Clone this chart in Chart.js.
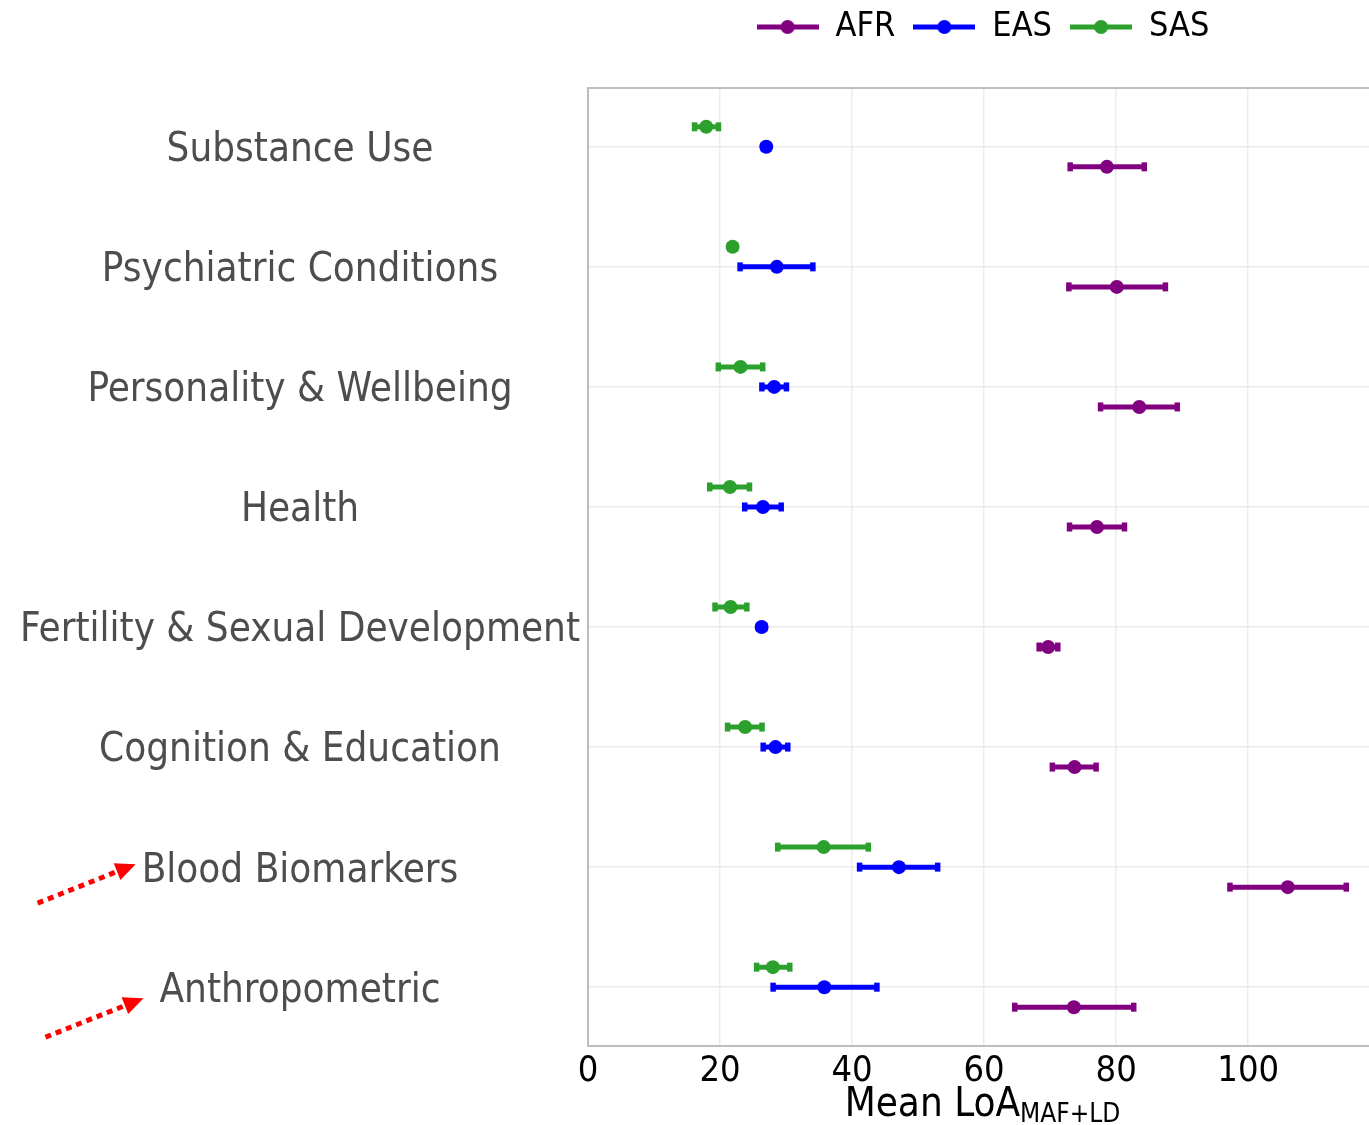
<!DOCTYPE html>
<html>
<head>
<meta charset="utf-8">
<script src="https://cdn.jsdelivr.net/npm/chart.js@4.4.1/dist/chart.umd.min.js"></script>
<style>
  html, body { margin: 0; padding: 0; background: #ffffff; }
  #wrap { width: 1369px; height: 1125px; position: relative; }
</style>
</head>
<body>
<div id="wrap"><canvas id="c" width="1369" height="1125"></canvas></div>
<script>
// ---------- DATA ----------
const categories = [
  "Substance Use",
  "Psychiatric Conditions",
  "Personality & Wellbeing",
  "Health",
  "Fertility & Sexual Development",
  "Cognition & Education",
  "Blood Biomarkers",
  "Anthropometric"
];
const seriesNames = ["AFR", "EAS", "SAS"];

const afrMean = [78.6, 80.1, 83.5, 77.1, 69.7, 73.7, 106.0, 73.6];
const afrLow  = [73.0, 72.8, 77.6, 72.9, 68.3, 70.3, 97.2, 64.6];
const afrHigh = [84.3, 87.5, 89.3, 81.3, 71.2, 77.0, 114.9, 82.7];

const easMean = [27.0, 28.6, 28.2, 26.5, 26.3, 28.4, 47.1, 35.8];
const easLow  = [26.5, 23.0, 26.3, 23.7, 25.8, 26.5, 41.1, 28.0];
const easHigh = [27.4, 34.1, 30.1, 29.3, 26.8, 30.3, 53.0, 43.8];

const sasMean = [17.9, 21.9, 23.1, 21.5, 21.6, 23.8, 35.7, 28.0];
const sasLow  = [16.1, 21.4, 19.7, 18.4, 19.2, 21.1, 28.7, 25.5];
const sasHigh = [19.8, 22.4, 26.5, 24.5, 24.1, 26.4, 42.5, 30.6];

const xTicks = [0, 20, 40, 60, 80, 100];
const xMax = 118.3;
const xTitle = "Mean LoA";
const xTitleSub = "MAF+LD";
const highlighted = ["Blood Biomarkers", "Anthropometric"];

// ---------- STYLE ----------
const colors = { AFR: "#800080", EAS: "#0000ff", SAS: "#2ca02c" };
const offsets = { AFR: 1 / 6, EAS: 0, SAS: -1 / 6 };
const FONT = "'DejaVu Sans Condensed', 'DejaVu Sans', sans-serif";
const Y_FONT_SIZE = 40;

const series = {
  AFR: { mean: afrMean, low: afrLow, high: afrHigh },
  EAS: { mean: easMean, low: easLow, high: easHigh },
  SAS: { mean: sasMean, low: sasLow, high: sasHigh }
};

function legendIcon(color) {
  const cv = document.createElement("canvas");
  cv.width = 62; cv.height = 16;
  const g = cv.getContext("2d");
  g.strokeStyle = color; g.lineWidth = 5;
  g.beginPath(); g.moveTo(0, 8); g.lineTo(62, 8); g.stroke();
  g.fillStyle = color;
  g.beginPath(); g.arc(31, 8, 7, 0, Math.PI * 2); g.fill();
  return cv;
}
const icons = {};
seriesNames.forEach(n => icons[n] = legendIcon(colors[n]));

const datasets = seriesNames.map(name => ({
  label: name,
  data: series[name].mean.map((m, i) => ({ x: m, y: i + offsets[name] })),
  backgroundColor: colors[name],
  borderColor: colors[name],
  pointRadius: 7,
  pointHoverRadius: 7,
  pointBorderWidth: 0,
  showLine: false,
  seriesKey: name
}));

// ---------- PLUGINS ----------
const errorBars = {
  id: "errorBars",
  beforeDatasetsDraw(chart) {
    const ctx = chart.ctx, xs = chart.scales.x, ca = chart.chartArea;
    ctx.save();
    ctx.beginPath(); ctx.rect(ca.left, ca.top, ca.right - ca.left, ca.bottom - ca.top); ctx.clip();
    chart.data.datasets.forEach((ds, di) => {
      const s = series[ds.seriesKey];
      const meta = chart.getDatasetMeta(di);
      meta.data.forEach((pt, j) => {
        const y = pt.y;
        const x1 = xs.getPixelForValue(s.low[j]);
        const x2 = xs.getPixelForValue(s.high[j]);
        ctx.strokeStyle = ds.borderColor;
        ctx.fillStyle = ds.borderColor;
        ctx.lineWidth = 5;
        ctx.beginPath(); ctx.moveTo(x1, y); ctx.lineTo(x2, y); ctx.stroke();
        ctx.fillRect(x1 - 2.5, y - 4.5, 5.5, 9);
        ctx.fillRect(x2 - 3, y - 4.5, 5.5, 9);
      });
    });
    ctx.restore();
  }
};

const frameAndTitle = {
  id: "frameAndTitle",
  afterInit(chart) {
    const lg = chart.legend;
    if (lg) {
      const origFit = lg.fit.bind(lg);
      lg.fit = function () { origFit(); this.height = 96; };
    }
  },
  afterLayout(chart) {
    const lg = chart.legend, ca = chart.chartArea;
    if (lg) { lg.left = ca.left + 9; lg.right = ca.right; }
  },
  afterDraw(chart) {
    const ctx = chart.ctx, ca = chart.chartArea, ys = chart.scales.y;
    ctx.save();
    // top frame line
    ctx.strokeStyle = "#bdbdbd"; ctx.lineWidth = 2;
    ctx.beginPath(); ctx.moveTo(ca.left - 1, ca.top); ctx.lineTo(ca.right, ca.top); ctx.stroke();

    // x-axis title with subscript
    const mainFont = "40px " + FONT, subFont = "26px " + FONT;
    ctx.font = mainFont; const w1 = ctx.measureText(xTitle).width;
    ctx.font = subFont; const w2 = ctx.measureText(xTitleSub).width;
    const cx = (ca.left + ca.right) / 2 + 4;
    const startX = cx - (w1 + w2) / 2;
    const baseY = 1116;
    ctx.fillStyle = "#000000"; ctx.textBaseline = "alphabetic"; ctx.textAlign = "left";
    ctx.font = mainFont; ctx.fillText(xTitle, startX, baseY);
    ctx.font = subFont; ctx.fillText(xTitleSub, startX + w1, baseY + 6);

    // red dotted arrows pointing to highlighted labels
    ctx.font = Y_FONT_SIZE + "px " + FONT;
    const tipDy = { "Blood Biomarkers": -3, "Anthropometric": 11 };
    const tipGap = { "Blood Biomarkers": 6, "Anthropometric": 16 };
    highlighted.forEach(lbl => {
      const idx = categories.indexOf(lbl);
      const ty = ys.getPixelForValue(idx);
      const w = ctx.measureText(lbl).width;
      const labelCenter = ca.left - 8 - ys._labelSizes.widest.width / 2;
      const tipX = labelCenter - w / 2 - tipGap[lbl];
      const tipY = ty + tipDy[lbl];
      const tailX = tipX - 98, tailY = tipY + 39;
      const ang = Math.atan2(tipY - tailY, tipX - tailX);
      const headLen = 20, headW = 9;
      const baseX = tipX - headLen * Math.cos(ang), baseYp = tipY - headLen * Math.sin(ang);
      ctx.strokeStyle = "#ff0000"; ctx.lineWidth = 5; ctx.setLineDash([6, 5]);
      ctx.beginPath(); ctx.moveTo(tailX, tailY); ctx.lineTo(baseX, baseYp); ctx.stroke();
      ctx.setLineDash([]);
      ctx.fillStyle = "#ff0000";
      ctx.beginPath();
      ctx.moveTo(tipX, tipY);
      ctx.lineTo(baseX + headW * Math.sin(ang), baseYp - headW * Math.cos(ang));
      ctx.lineTo(baseX - headW * Math.sin(ang), baseYp + headW * Math.cos(ang));
      ctx.closePath(); ctx.fill();
    });
    ctx.restore();
  }
};

// ---------- CHART ----------
new Chart(document.getElementById("c"), {
  type: "scatter",
  data: { datasets },
  options: {
    responsive: false,
    animation: false,
    devicePixelRatio: 1,
    layout: { autoPadding: false, padding: { top: -8, left: 0, right: 0, bottom: 0 } },
    plugins: {
      tooltip: { enabled: false },
      legend: {
        position: "top",
        align: "center",
        labels: {
          usePointStyle: true,
          pointStyleWidth: 62,
          padding: 18,
          color: "#000000",
          font: { family: FONT, size: 34 },
          generateLabels(chart) {
            return chart.data.datasets.map((ds, i) => ({
              text: ds.label,
              fillStyle: ds.backgroundColor,
              strokeStyle: ds.borderColor,
              fontColor: "#000000",
              lineWidth: 0,
              pointStyle: icons[ds.label],
              hidden: false,
              datasetIndex: i
            }));
          }
        }
      }
    },
    scales: {
      x: {
        type: "linear",
        min: 0,
        max: xMax,
        afterBuildTicks(scale) { scale.ticks = xTicks.map(v => ({ value: v })); },
        afterFit(scale) { scale.height = 79; scale.paddingRight = 0; scale.paddingLeft = 0; },
        grid: { color: "#ebebeb", lineWidth: 1.5, drawTicks: false },
        border: { display: true, color: "#bdbdbd", width: 2 },
        ticks: {
          color: "#000000",
          font: { family: FONT, size: 36 },
          padding: 4,
          maxRotation: 0
        }
      },
      y: {
        type: "linear",
        reverse: true,
        min: -0.49,
        max: 7.49,
        afterBuildTicks(scale) {
          scale.ticks = categories.map((c, i) => ({ value: i }));
          if (!scale._labelShiftPatched) {
            const orig = scale._computeLabelItems.bind(scale);
            scale._computeLabelItems = function (ca) {
              const items = orig(ca);
              items.forEach(it => { it.options.translation[1] += 4; });
              return items;
            };
            scale._labelShiftPatched = true;
          }
        },
        afterFit(scale) { scale.width = 588; },
        grid: { color: "#ebebeb", lineWidth: 1.5, drawTicks: false },
        border: { display: true, color: "#bdbdbd", width: 2 },
        ticks: {
          color: "#4d4d4d",
          font: { family: FONT, size: Y_FONT_SIZE },
          crossAlign: "center",
          padding: 8,
          callback(v) { return categories[v] !== undefined ? categories[v] : ""; }
        }
      }
    }
  },
  plugins: [errorBars, frameAndTitle]
});
</script>
</body>
</html>
